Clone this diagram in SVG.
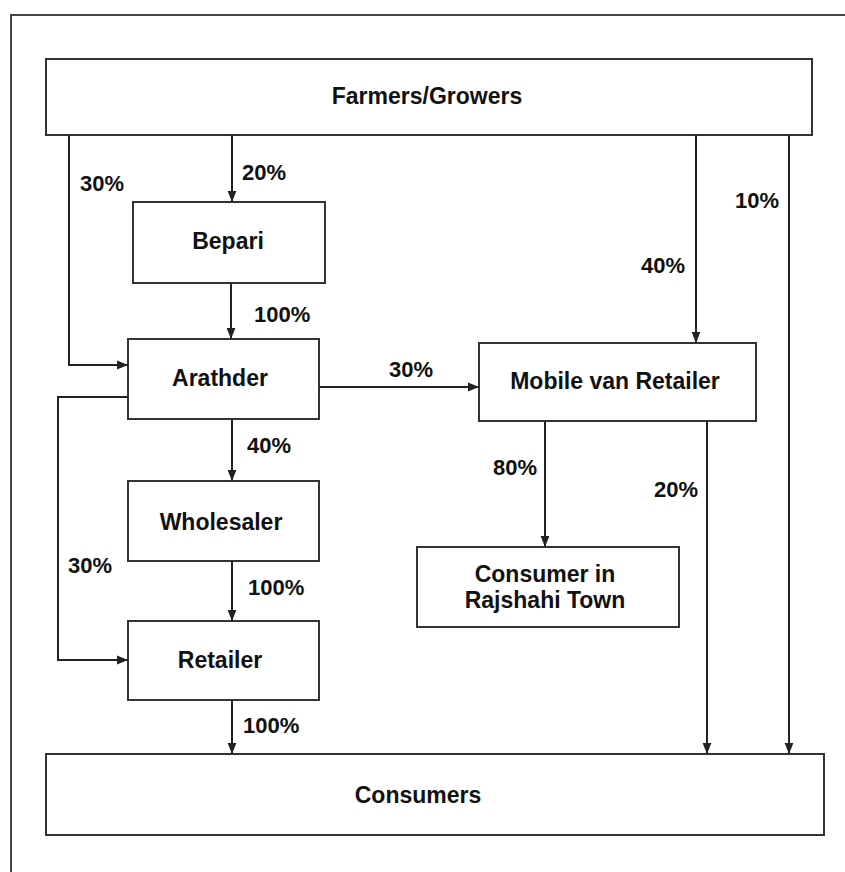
<svg xmlns="http://www.w3.org/2000/svg" width="845" height="872" viewBox="0 0 845 872">
<defs>
<marker id="ah" viewBox="0 0 10 10" refX="10" refY="5" markerWidth="11" markerHeight="11" markerUnits="userSpaceOnUse" orient="auto">
<path d="M0,1 L10,5 L0,9 Z" fill="#222"/>
</marker>
<style>
.box{fill:#fff;stroke:#333;stroke-width:2}
.t{font-family:"Liberation Sans",Arial,sans-serif;font-weight:bold;font-size:22px;fill:#111}
.b{font-size:23px}
.c{text-anchor:middle}
.ln{fill:none;stroke:#222;stroke-width:2}
</style>
</defs>
<rect x="0" y="0" width="845" height="872" fill="#fff"/>
<rect x="11" y="15" width="900" height="900" fill="none" stroke="#444" stroke-width="2"/>
<g id="farmers"><rect class="box" x="46" y="59" width="766" height="76"/><text class="t b c" x="427" y="104">Farmers/Growers</text></g>
<g id="bepari"><rect class="box" x="133" y="202" width="192" height="81"/><text class="t b c" x="228" y="249">Bepari</text></g>
<g id="arathder"><rect class="box" x="128" y="339" width="191" height="80"/><text class="t b c" x="220" y="386">Arathder</text></g>
<g id="wholesaler"><rect class="box" x="128" y="481" width="191" height="80"/><text class="t b c" x="221" y="530">Wholesaler</text></g>
<g id="retailer"><rect class="box" x="128" y="621" width="191" height="79"/><text class="t b c" x="220" y="668">Retailer</text></g>
<g id="consumers"><rect class="box" x="46" y="754" width="778" height="81"/><text class="t b c" x="418" y="803">Consumers</text></g>
<g id="mobile"><rect class="box" x="479" y="343" width="277" height="78"/><text class="t b c" x="615" y="389">Mobile van Retailer</text></g>
<g id="rajshahi"><rect class="box" x="417" y="547" width="262" height="80"/><text class="t b c" x="545" y="582">Consumer in</text><text class="t b c" x="545" y="608">Rajshahi Town</text></g>
<g id="connectors">
<line class="ln" x1="232" y1="135" x2="232" y2="202" marker-end="url(#ah)"/>
<polyline class="ln" points="69,135 69,365 128,365" marker-end="url(#ah)"/>
<line class="ln" x1="231" y1="283" x2="231" y2="339" marker-end="url(#ah)"/>
<line class="ln" x1="319" y1="387" x2="479" y2="387" marker-end="url(#ah)"/>
<line class="ln" x1="696" y1="135" x2="696" y2="343" marker-end="url(#ah)"/>
<line class="ln" x1="789" y1="135" x2="789" y2="754" marker-end="url(#ah)"/>
<polyline class="ln" points="128,397 58,397 58,660 128,660" marker-end="url(#ah)"/>
<line class="ln" x1="232" y1="419" x2="232" y2="481" marker-end="url(#ah)"/>
<line class="ln" x1="232" y1="561" x2="232" y2="621" marker-end="url(#ah)"/>
<line class="ln" x1="232" y1="700" x2="232" y2="754" marker-end="url(#ah)"/>
<line class="ln" x1="545" y1="421" x2="545" y2="547" marker-end="url(#ah)"/>
<line class="ln" x1="707" y1="421" x2="707" y2="754" marker-end="url(#ah)"/>
<text class="t" x="242" y="180">20%</text>
<text class="t" x="80" y="191">30%</text>
<text class="t" x="254" y="322">100%</text>
<text class="t" x="389" y="377">30%</text>
<text class="t" x="735" y="208">10%</text>
<text class="t" x="641" y="273">40%</text>
<text class="t" x="247" y="453">40%</text>
<text class="t" x="68" y="573">30%</text>
<text class="t" x="248" y="595">100%</text>
<text class="t" x="243" y="733">100%</text>
<text class="t" x="493" y="475">80%</text>
<text class="t" x="654" y="497">20%</text>
</g>
</svg>
